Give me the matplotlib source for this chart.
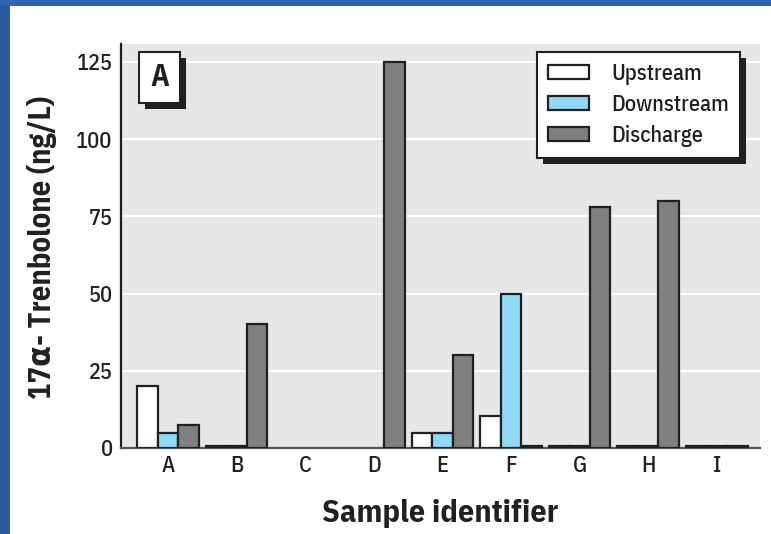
import matplotlib
matplotlib.use("Agg")
import matplotlib.pyplot as plt
import numpy as np
from matplotlib.patches import Rectangle

categories = ["A", "B", "C", "D", "E", "F", "G", "H", "I"]
upstream = [20, 0.5, np.nan, np.nan, 5, 10.5, 0.5, 0.5, 0.5]
downstream = [5, 0.5, np.nan, np.nan, 5, 50, 0.5, 0.5, 0.5]
discharge = [7.5, 40, np.nan, 125, 30, 0.5, 78, 80, 0.5]
series_names = ["Upstream", "Downstream", "Discharge"]
yticks = [0, 25, 50, 75, 100, 125]

FONT = ["IBM Plex Sans Condensed", "DejaVu Sans"]
plt.rcParams['font.family'] = FONT
TXT = "#231f20"

fig = plt.figure(figsize=(7.71, 5.34), dpi=100)
fig.patch.set_facecolor("white")
fig.add_artist(Rectangle((0, 0), 10/771, 1, transform=fig.transFigure,
                         facecolor="#2c5a9f", edgecolor="none", zorder=-10))
fig.add_artist(Rectangle((0, 1 - 6/534), 1, 6/534, transform=fig.transFigure,
                         facecolor="#3163b3", edgecolor="none", zorder=-10))

ax = fig.add_axes([121/771, 1 - 448/534, (760-121)/771, (448-44)/534])
ax.set_facecolor("#e6e7e8")

x = np.arange(len(categories))
w = 0.30
colors = ["#ffffff", "#8ed8f8", "#808080"]
for i, (vals, c, name) in enumerate(zip([upstream, downstream, discharge], colors, series_names)):
    ax.bar(x + (i - 1) * w, vals, width=w, color=c, edgecolor=TXT, linewidth=1.6,
           label=name, zorder=3)

ax.set_xlim(-0.685, 8.63)
ax.set_ylim(0, 130.8)
ax.set_yticks(yticks)
ax.set_xticks(x)
ax.set_xticklabels(categories)
ax.yaxis.grid(True, color="white", linewidth=1.6, zorder=0)
ax.set_axisbelow(True)
ax.tick_params(length=0, labelsize=16, colors=TXT)
ax.tick_params(axis='y', pad=6)
ax.tick_params(axis='x', pad=5)
for lab in ax.get_xticklabels() + ax.get_yticklabels():
    lab.set_fontweight("medium")
for s in ["top", "right"]:
    ax.spines[s].set_visible(False)
ax.spines["left"].set_color(TXT)
ax.spines["left"].set_linewidth(1.6)
ax.spines["bottom"].set_color("#555555")
ax.spines["bottom"].set_linewidth(1.6)

ax.set_ylabel("17\u03b1- Trenbolone (ng/L)", fontsize=22, fontweight="bold", color=TXT)
ax.set_xlabel("Sample identifier", fontsize=23, fontweight="bold", color=TXT)
ax.yaxis.set_label_coords((42 - 121) / 639, (448 - 247) / 404)
ax.yaxis.label.set_va("center")
ax.xaxis.set_label_coords(0.5, (448 - 514) / 404)
ax.xaxis.label.set_va("center")

leg = ax.legend(loc="upper right", bbox_to_anchor=((740-121)/639, (448-52)/404),
                prop={"size": 16, "weight": "medium"}, frameon=True, fancybox=False,
                handlelength=1.85, handleheight=0.6, borderpad=0.5, labelspacing=0.4,
                handletextpad=1.0, borderaxespad=0)
leg.set_zorder(5)
leg.get_frame().set_edgecolor(TXT)
leg.get_frame().set_linewidth(1.5)
leg.get_frame().set_alpha(1)
for t in leg.get_texts():
    t.set_color(TXT)

atxt = ax.text((159.5 - 121) / 639, (448 - 77) / 404, "A", transform=ax.transAxes,
               fontsize=22, fontweight="bold", color=TXT, ha="center", va="center", zorder=10,
               bbox=dict(boxstyle="square,pad=0.36", facecolor="white", edgecolor=TXT, linewidth=1.5))

# drop shadows behind the legend and the panel label
fig.canvas.draw()
r = fig.canvas.get_renderer()
off = 6
for bb, z in [(leg.get_frame().get_window_extent(r), 4.9),
              (atxt.get_bbox_patch().get_window_extent(r), 9.9)]:
    ax.add_artist(Rectangle((bb.x0 + off, bb.y0 - off), bb.width, bb.height, transform=None,
                            facecolor=TXT, edgecolor="none", zorder=z, clip_on=False))

fig.savefig("out.png", dpi=100, facecolor=fig.get_facecolor())
